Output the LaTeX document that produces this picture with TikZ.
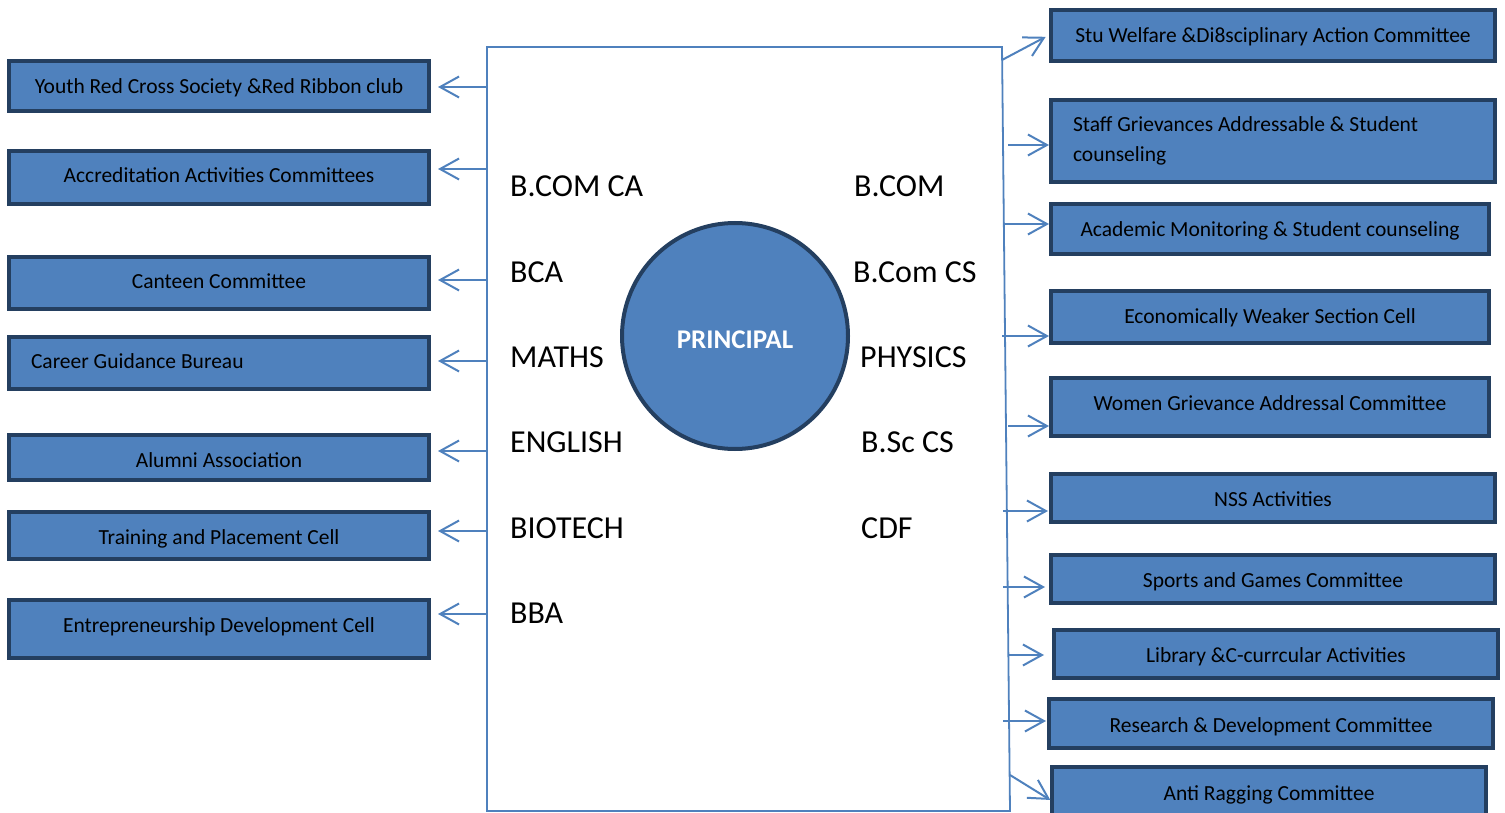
\documentclass[tikz,border=0pt]{standalone}
\usepackage{fontspec}
\setmainfont{Carlito}
\usetikzlibrary{arrows.meta}
\definecolor{boxfill}{HTML}{4F81BD}
\definecolor{boxline}{HTML}{243F60}
\definecolor{conn}{HTML}{4F81BD}
\newcommand{\dn}[2]{\raisebox{-#1pt}{#2}}
\begin{document}
\begin{tikzpicture}[x=1pt,y=-1pt,
  cbox/.style={draw=boxline, fill=boxfill, line width=4pt, inner sep=0pt, outer sep=0pt,
    font=\fontsize{21.5}{25}\selectfont, text=black, align=center},
  one/.style={text height=17.2pt, text depth=3.4pt},
  dept/.style={font=\fontsize{32}{38}\selectfont, text=black, inner sep=0pt, anchor=base west},
  frame/.style={draw=conn, line width=1.8pt},
  arr/.style={draw=conn, line width=2pt, -{Straight Barb[length=19pt,width=21pt]}},
]
\useasboundingbox (0,0) rectangle (1505,813);
\clip (0,0) rectangle (1505,813);

% central frame
\coordinate (ftl) at (487,47);
\coordinate (ftr) at (1002,47);
\coordinate (fbr) at (1010,811);
\coordinate (fbl) at (487,811);
\draw[frame] (ftl) -- (ftr) -- (fbr) -- (fbl) -- cycle;

% principal
\node[circle, draw=boxline, fill=boxfill, line width=4pt, minimum size=226pt, inner sep=0pt, outer sep=0pt,
  font=\bfseries\fontsize{27}{32}\selectfont, text=white, text height=17.4pt, text depth=0pt] (prin) at (735,336) {\dn{4}{PRINCIPAL}};

% departments
\node[dept] (d1) at (510,197) {B.COM CA};
\node[dept] (d2) at (510,282) {BCA};
\node[dept] (d3) at (510,367) {MATHS};
\node[dept] (d4) at (510,452) {ENGLISH};
\node[dept] (d5) at (510,538) {BIOTECH};
\node[dept] (d6) at (510,623) {BBA};
\node[dept] (d7) at (854,197) {B.COM};
\node[dept] (d8) at (853,282) {B.Com CS};
\node[dept] (d9) at (860,367) {PHYSICS};
\node[dept] (d10) at (861,452) {B.Sc CS};
\node[dept] (d11) at (861,538) {CDF};

% left boxes
\node[cbox, one, minimum width=420pt, minimum height=50pt] (l1b) at (219,86) {\dn{1}{Youth Red Cross Society \&Red Ribbon club}};
\node[cbox, one, minimum width=420pt, minimum height=53pt] (l2b) at (219,177.5) {\dn{-1.5}{Accreditation Activities Committees}};
\node[cbox, one, minimum width=420pt, minimum height=52pt] (l3b) at (219,283) {\dn{-1}{Canteen Committee}};
\node[cbox, one, minimum width=420pt, minimum height=52pt, text width=376pt, align=flush left] (l4b) at (219,363) {\dn{-1}{Career Guidance Bureau}};
\node[cbox, one, minimum width=420pt, minimum height=45pt] (l5b) at (219,457.5) {\dn{3.5}{Alumni Association}};
\node[cbox, one, minimum width=420pt, minimum height=47pt] (l6b) at (219,535.5) {\dn{2.5}{Training and Placement Cell}};
\node[cbox, one, minimum width=420pt, minimum height=58pt] (l7b) at (219,629) {\dn{-3}{Entrepreneurship Development Cell}};

% right boxes
\node[cbox, one, minimum width=444pt, minimum height=51pt] (r1b) at (1273,35.5) {\dn{0.5}{Stu Welfare \&Di8sciplinary Action Committee}};
\node[cbox, minimum width=444pt, minimum height=82pt, text width=400pt, align=flush left, font=\fontsize{21.5}{30}\selectfont] (r2b) at (1273,141) {Staff Grievances Addressable \& Student\\counseling};
\node[cbox, one, minimum width=438pt, minimum height=50pt] (r3b) at (1270,229) {\dn{1}{Academic Monitoring \& Student counseling}};
\node[cbox, one, minimum width=438pt, minimum height=52pt] (r4b) at (1270,317) {Economically Weaker Section Cell};
\node[cbox, one, minimum width=438pt, minimum height=58pt] (r5b) at (1270,407) {\dn{-3}{Women Grievance Addressal Committee}};
\node[cbox, one, minimum width=444pt, minimum height=48pt] (r6b) at (1273,498) {\dn{2}{NSS Activities}};
\node[cbox, one, minimum width=444pt, minimum height=48pt] (r7b) at (1273,579) {\dn{2}{Sports and Games Committee}};
\node[cbox, one, minimum width=444pt, minimum height=48pt] (r8b) at (1276,654) {\dn{2}{Library \&C-currcular Activities}};
\node[cbox, one, minimum width=444pt, minimum height=49pt] (r9b) at (1271,723.5) {\dn{2.5}{Research \& Development Committee}};
\node[cbox, one, minimum width=434pt, minimum height=60pt] (r10b) at (1269,797) {\dn{-3}{Anti Ragging Committee}};

% left connector starts
\coordinate (l1) at (487,87);
\coordinate (l2) at (487,169);
\coordinate (l3) at (487,280);
\coordinate (l4) at (487,361);
\coordinate (l5) at (487,451);
\coordinate (l6) at (487,531);
\coordinate (l7) at (487,614);
\foreach \i in {1,...,7}{
  \draw[arr, shorten >=9pt] (l\i) -- (l\i b.east |- l\i);
}

% right connector starts
\coordinate (r1) at (1002,60);
\coordinate (r2) at (1008,145);
\coordinate (r3) at (1004,224);
\coordinate (r4) at (1002,336);
\coordinate (r5) at (1008,426);
\coordinate (r6) at (1003,511);
\coordinate (r7) at (1003,587);
\coordinate (r8) at (1008,655);
\coordinate (r9) at (1003,721);
\coordinate (r10) at (1010,775);
\draw[arr, shorten >=6pt] (r1) -- ([yshift=1.5pt]r1b.west);
\draw[arr, shorten >=2pt] (r2) -- (r2b.west |- r2);
\draw[arr, shorten >=2pt] (r3) -- (r3b.west |- r3);
\draw[arr, shorten >=2pt] (r4) -- (r4b.west |- r4);
\draw[arr, shorten >=2pt] (r5) -- (r5b.west |- r5);
\draw[arr, shorten >=3pt] (r6) -- (r6b.west |- r6);
\draw[arr, shorten >=6pt] (r7) -- (r7b.west |- r7);
\draw[arr, shorten >=10pt] (r8) -- (r8b.west |- r8);
\draw[arr, shorten >=3pt] (r9) -- (r9b.west |- r9);
\draw[arr, shorten >=2pt] (r10) -- ([yshift=-4pt]r10b.west);
\end{tikzpicture}
\end{document}
